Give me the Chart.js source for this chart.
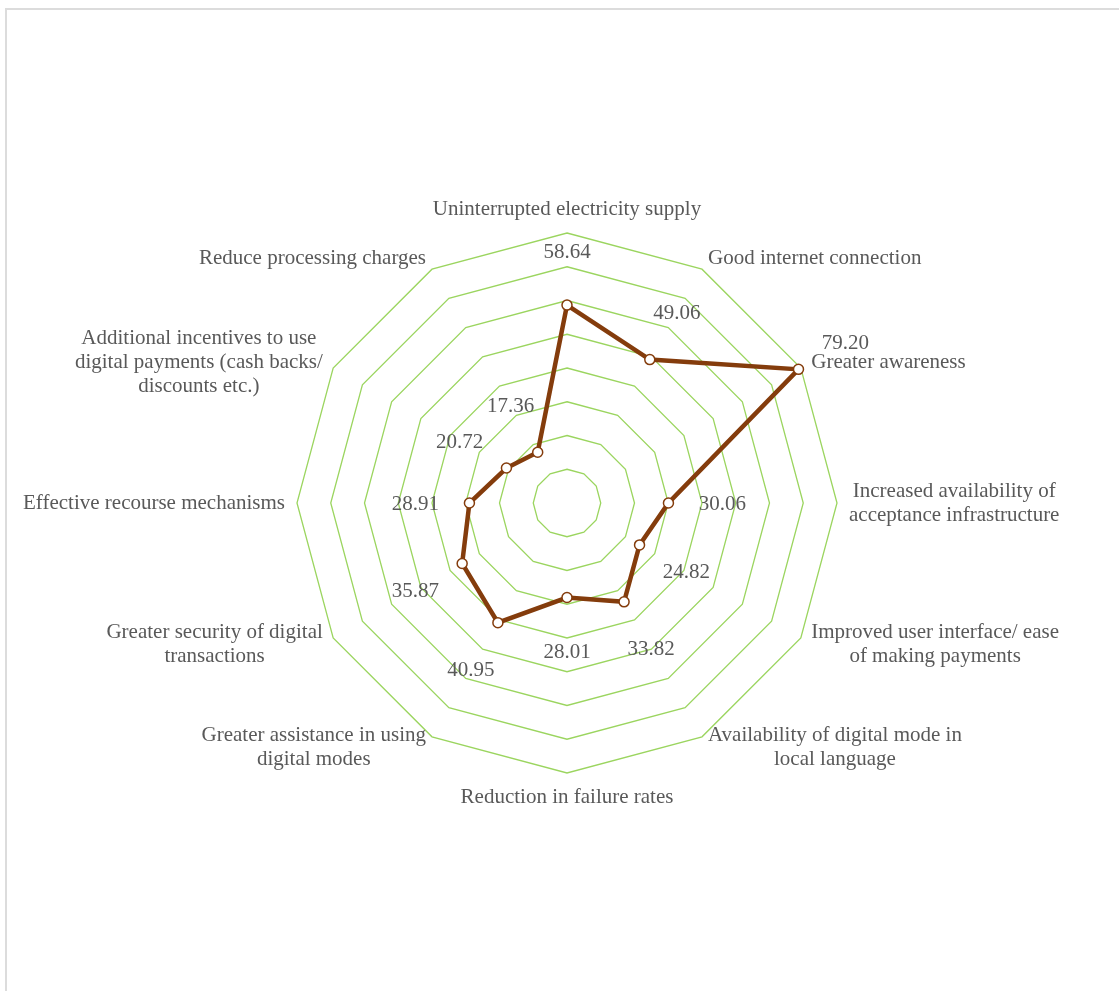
<!DOCTYPE html>
<html>
<head>
<meta charset="utf-8">
<title>Radar chart</title>
<script src="https://cdn.jsdelivr.net/npm/chart.js@4.4.1/dist/chart.umd.min.js"></script>
<style>
  html, body {
    margin: 0;
    padding: 0;
    background: #ffffff;
    overflow: hidden;
  }

  #frame {
    position: absolute;
    left: 5px;
    top: 8px;
    width: 1200px;
    height: 1100px;
    border-top: 2px solid #dcdcdc;
    border-left: 2px solid #dcdcdc;
  }

  #radarChart {
    position: absolute;
    left: 0;
    top: 0;
  }
</style>
</head>
<body>

<div id="frame"></div>
<canvas id="radarChart" width="1119" height="991"></canvas>

<script>

const categories = [
  ["Uninterrupted electricity supply"],
  ["Good internet connection"],
  ["Greater awareness"],
  ["Increased availability of", "acceptance infrastructure"],
  ["Improved user interface/ ease", "of making payments"],
  ["Availability of digital mode in", "local language"],
  ["Reduction in failure rates"],
  ["Greater assistance in using", "digital modes"],
  ["Greater security of digital", "transactions"],
  ["Effective recourse mechanisms"],
  ["Additional incentives to use", "digital payments (cash backs/", "discounts etc.)"],
  ["Reduce processing charges"]
];

const scores = [
  58.64, 49.06, 79.20, 30.06, 24.82, 33.82,
  28.01, 40.95, 35.87, 28.91, 20.72, 17.36
];

const scaleMax = 80;
const scaleStep = 10;

const textColor = "#595959";
const textFont = "\"Liberation Serif\", \"Times New Roman\", serif";

// draws category names round the outer ring and the value next to each point
const radarLabels = {

  id: "radarLabels",

  afterDatasetsDraw(chart) {

    const ctx = chart.ctx;
    const scale = chart.scales.r;
    const lineHeight = 24;

    ctx.save();
    ctx.fillStyle = textColor;
    ctx.textBaseline = "middle";
    ctx.textAlign = "center";

    // category labels
    ctx.font = "21px " + textFont;

    categories.forEach((lines, i) => {

      const p = scale.getPointPosition(i, scale.drawingArea + 12);
      const dx = p.x - scale.xCenter;
      const dy = p.y - scale.yCenter;

      const width = Math.max(...lines.map(l => ctx.measureText(l).width));
      const height = lines.length * lineHeight;

      let cx = p.x;
      let top = p.y - height / 2;

      if (Math.abs(dx) < 1) {
        top = dy < 0 ? p.y - height : p.y;
      } else if (dx > 0) {
        cx = p.x + width / 2;
      } else {
        cx = p.x - width / 2;
      }

      lines.forEach((line, j) => {
        ctx.fillText(line, cx, top + lineHeight * (j + 0.5));
      });
    });

    // value labels
    ctx.font = "21px " + textFont;

    scores.forEach((value, i) => {

      const p = scale.getPointPosition(
        i,
        scale.getDistanceFromCenterForValue(value) + 54
      );

      ctx.fillText(value.toFixed(2), p.x, p.y + 1);
    });

    ctx.restore();
  }
};

const canvas =
  document.getElementById(
    "radarChart"
  );

new Chart(canvas, {

  type: "radar",

  data: {

    labels: categories,

    datasets: [{
      data: scores,
      fill: false,
      borderColor: "#843C0C",
      borderWidth: 4.5,
      pointRadius: 5,
      pointBackgroundColor: "#FFFFFF",
      pointBorderColor: "#843C0C",
      pointBorderWidth: 1.5,
      tension: 0
    }]
  },

  options: {

    responsive: false,

    animation: false,

    devicePixelRatio: 1,

    layout: {
      padding: {
        left: 297,
        right: 282,
        top: 233,
        bottom: 217
      }
    },

    plugins: {
      legend: {
        display: false
      },
      tooltip: {
        enabled: false
      }
    },

    scales: {

      r: {

        min: 0,

        max: scaleMax,

        ticks: {
          stepSize: scaleStep,
          display: false
        },

        grid: {
          color: "#9BD55F",
          lineWidth: 1.3
        },

        angleLines: {
          display: false
        },

        pointLabels: {
          display: false
        }
      }
    }
  },

  plugins: [radarLabels]
});

</script>
</body>
</html>
